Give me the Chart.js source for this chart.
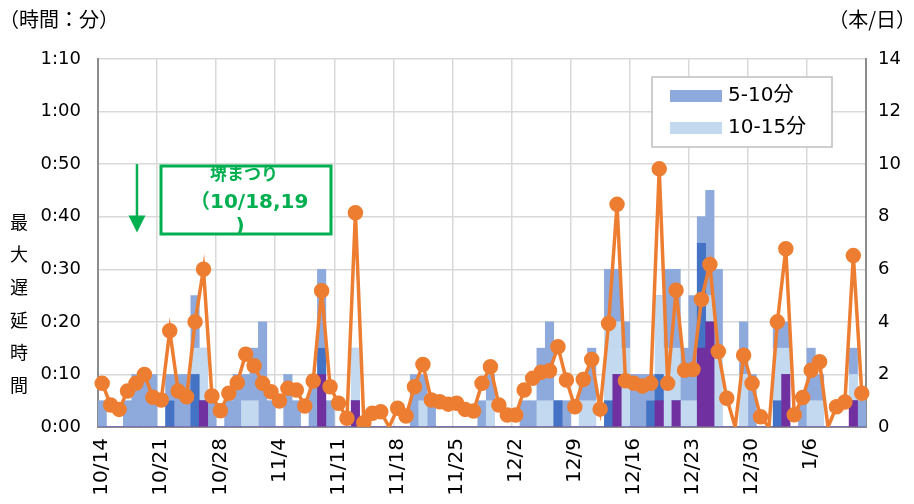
<!DOCTYPE html>
<html lang="ja">
<head>
<meta charset="utf-8">
<script src="https://cdn.jsdelivr.net/npm/chart.js@4.4.1/dist/chart.umd.min.js"></script>
<style>
  body { margin: 0; background: #fff; }
</style>
</head>
<body>
<canvas id="grafico" width="914" height="504"></canvas>
<script>
const dias = [
  '10/14','10/15','10/16','10/17','10/18','10/19','10/20','10/21','10/22','10/23','10/24','10/25','10/26','10/27','10/28','10/29','10/30','10/31',
  '11/1','11/2','11/3','11/4','11/5','11/6','11/7','11/8','11/9','11/10','11/11','11/12','11/13','11/14','11/15','11/16','11/17','11/18','11/19','11/20',
  '11/21','11/22','11/23','11/24','11/25','11/26','11/27','11/28','11/29','11/30',
  '12/1','12/2','12/3','12/4','12/5','12/6','12/7','12/8','12/9','12/10','12/11','12/12','12/13','12/14','12/15','12/16','12/17','12/18','12/19','12/20',
  '12/21','12/22','12/23','12/24','12/25','12/26','12/27','12/28','12/29','12/30','12/31',
  '1/1','1/2','1/3','1/4','1/5','1/6','1/7','1/8','1/9','1/10','1/11','1/12'
]
const rotulosX = ['10/14','10/21','10/28','11/4','11/11','11/18','11/25','12/2','12/9','12/16','12/23','12/30','1/6']

// minutes, stacked bottom to top
const roxo = [
  0,0,0,0,0,0,0,0,0,0, 0,0,5,0,0,0,0,0,0,0, 0,0,0,0,0,0,10,0,0,0,
  5,0,0,0,0,0,0,0,0,0, 0,0,0,0,0,0,0,0,0,0, 0,0,0,0,0,0,0,0,0,0,
  0,10,0,0,0,0,5,0,5,0, 0,15,20,0,0,0,0,0,0,0, 0,10,0,0,0,0,0,0,0,5, 0
]
const azulEscuro = [
  0,0,0,0,0,0,0,0,5,0, 0,10,0,0,0,0,0,0,0,0, 0,0,0,0,0,0,5,0,0,0,
  0,0,0,0,0,0,0,0,0,0, 0,0,0,0,0,0,0,0,0,0, 0,0,0,0,5,0,0,0,0,0,
  5,0,0,0,0,5,5,0,0,0, 0,20,0,0,0,0,0,0,0,0, 5,0,0,0,0,0,0,0,0,0, 0
]
const faixa10a15 = [
  0,0,0,0,0,0,0,0,0,0, 0,5,10,0,0,0,0,5,5,0, 0,0,0,0,0,0,0,0,0,0,
  10,0,0,0,0,0,0,0,5,0, 0,0,0,0,0,0,5,0,0,0, 0,0,5,5,0,0,0,5,5,0,
  15,10,15,0,0,0,15,15,10,5, 5,0,5,15,0,0,10,0,0,0, 10,5,0,0,5,5,0,0,0,5, 0
]
const faixa5a10 = [
  5,0,0,5,10,10,10,0,5,10, 10,10,0,5,0,5,10,5,10,20, 5,0,10,5,0,10,15,5,0,0,
  0,0,0,0,0,0,0,10,5,5, 0,0,0,0,0,5,5,0,0,0, 5,5,10,15,0,5,0,5,10,0,
  10,10,5,10,10,5,0,15,15,10, 20,5,20,15,0,0,10,10,0,0, 5,5,0,5,10,5,0,0,0,5, 5
]
// 本/日
const trensPorDia = [
  1.66,0.84,0.67,1.37,1.66,2.0,1.13,1.03,3.66,1.37,
  1.15,4.0,6.0,1.18,0.62,1.28,1.68,2.77,2.33,1.66,
  1.34,0.99,1.47,1.41,0.8,1.75,5.18,1.53,0.9,0.33,
  8.15,0.16,0.52,0.58,0,0.71,0.42,1.53,2.38,1.03,
  0.96,0.87,0.9,0.67,0.61,1.66,2.29,0.84,0.46,0.46,
  1.41,1.85,2.08,2.14,3.05,1.79,0.77,1.81,2.57,0.68,
  3.94,8.47,1.76,1.66,1.56,1.66,9.82,1.66,5.2,2.16,
  2.19,4.85,6.18,2.87,1.09,0,2.73,1.66,0.39,0,
  4.0,6.78,0.47,1.12,2.16,2.48,0,0.77,0.95,6.52,
  1.28
]

const fonte = '"DejaVu Sans", "Noto Sans CJK JP", sans-serif'
const fonteJp = '"Noto Sans CJK JP", sans-serif'
const verde = '#00B050'
const cinzaGrade = '#D9D9D9'
const cinzaEixo = '#8C8C8C'

const minutos = (v) => Math.floor(v / 60) + ':' + String(v % 60).padStart(2, '0')

const extras = {
  id: 'extras',
  afterDraw(chart) {
    const ctx = chart.ctx
    const x = chart.scales.x
    const y = chart.scales.y
    ctx.save()

    // titulos
    ctx.fillStyle = '#000'
    ctx.font = '20px ' + fonteJp
    ctx.textBaseline = 'middle'
    ctx.textAlign = 'left'
    ctx.fillText('（時間：分）', -1, 19)
    ctx.textAlign = 'right'
    ctx.fillText('（本/日）', 916, 19)
    ctx.textAlign = 'center'
    ctx.font = '18px ' + fonteJp
    '最大遅延時間'.split('').forEach((c, i) => {
      ctx.fillText(c, 19, 222 + i * 32.6)
    })

    // seta e caixa do evento
    const xs = x.getPixelForValue(4) + 1
    const topo = y.getPixelForValue(50)
    const fim = y.getPixelForValue(37)
    ctx.strokeStyle = verde
    ctx.fillStyle = verde
    ctx.lineWidth = 2.5
    ctx.beginPath()
    ctx.moveTo(xs, topo)
    ctx.lineTo(xs, fim - 14)
    ctx.stroke()
    ctx.beginPath()
    ctx.moveTo(xs - 8.5, fim - 17)
    ctx.lineTo(xs + 8.5, fim - 17)
    ctx.lineTo(xs, fim)
    ctx.closePath()
    ctx.fill()

    const bx = 161, by = 166, bw = 170, bh = 68
    ctx.fillStyle = '#fff'
    ctx.fillRect(bx, by, bw, bh)
    ctx.lineWidth = 3
    ctx.strokeRect(bx, by, bw, bh)
    ctx.fillStyle = verde
    ctx.font = 'bold 17px ' + fonte
    ctx.textAlign = 'center'
    ctx.fillText('堺まつり', 244, 176)
    // ajusta o tamanho para a largura da linha original (~100px)
    ctx.font = 'bold 20px ' + fonte
    const tam = Math.min(20, 20 * 100 / ctx.measureText('10/18,19').width)
    ctx.font = 'bold ' + tam.toFixed(1) + 'px ' + fonte
    ctx.textAlign = 'right'
    ctx.fillText('（', 210, 203)
    ctx.textAlign = 'left'
    ctx.fillText('10/18,19', 210, 203)
    ctx.textAlign = 'center'
    ctx.fillText(')', 240, 227)

    // legenda
    const lx = 652, ly = 77
    ctx.fillStyle = '#fff'
    ctx.fillRect(lx, ly, 180, 70)
    ctx.strokeStyle = '#BFBFBF'
    ctx.lineWidth = 1.5
    ctx.strokeRect(lx, ly, 180, 70)
    const itens = [chart.data.datasets[3], chart.data.datasets[2]]
    itens.forEach((d, i) => {
      const cy = ly + 19 + i * 32
      ctx.fillStyle = d.backgroundColor
      ctx.fillRect(lx + 18, cy - 6, 52, 12)
      ctx.fillStyle = '#000'
      ctx.font = '20px ' + fonte
      ctx.textAlign = 'left'
      ctx.fillText(d.label, lx + 76, cy)
    })

    ctx.restore()
  }
}

const grafico = new Chart(document.getElementById('grafico'), {
  data: {
    labels: dias,
    datasets: [
      { type: 'bar', label: '紫', data: roxo, backgroundColor: '#7030A0', yAxisID: 'y', order: 2 },
      { type: 'bar', label: '濃青', data: azulEscuro, backgroundColor: '#4472C4', yAxisID: 'y', order: 2 },
      { type: 'bar', label: '10-15分', data: faixa10a15, backgroundColor: '#C2D9EF', yAxisID: 'y', order: 2 },
      { type: 'bar', label: '5-10分', data: faixa5a10, backgroundColor: '#8EA9DB', yAxisID: 'y', order: 2 },
      {
        type: 'line', label: '本/日', data: trensPorDia, yAxisID: 'y1', order: 1,
        borderColor: '#ED7D31', backgroundColor: '#ED7D31', borderWidth: 3.5,
        pointRadius: (c) => c.raw === 0 ? 0 : 6, pointHoverRadius: 6,
        tension: 0
      }
    ]
  },
  options: {
    responsive: false,
    animation: false,
    layout: { padding: { top: 59, left: 0, right: 0, bottom: 0 } },
    datasets: { bar: { barPercentage: 1, categoryPercentage: 1, stack: 'atraso' } },
    plugins: {
      legend: { display: false },
      tooltip: { enabled: false }
    },
    scales: {
      x: {
        stacked: true,
        offset: true,
        afterFit: (s) => { s.height = 77 },
        border: { color: cinzaEixo, width: 2 },
        grid: {
          offset: true,
          drawTicks: false,
          lineWidth: 1.5,
          color: (c) => c.index % 7 === 0 ? cinzaGrade : 'rgba(0,0,0,0)'
        },
        ticks: {
          autoSkip: false,
          maxRotation: 90,
          minRotation: 90,
          padding: 11,
          color: '#000',
          font: { family: fonte, size: 20 },
          callback: function (v) {
            const l = this.getLabelForValue(v)
            return rotulosX.includes(l) ? l : ''
          }
        }
      },
      y: {
        stacked: true,
        min: 0,
        max: 70,
        afterFit: (s) => { s.width = 98 },
        border: { color: cinzaEixo, width: 2 },
        grid: { color: cinzaGrade, lineWidth: 1.5, drawTicks: false },
        ticks: {
          stepSize: 10,
          padding: 17,
          color: '#000',
          font: { family: fonte, size: 18 },
          callback: (v) => minutos(v)
        }
      },
      y1: {
        position: 'right',
        min: 0,
        max: 14,
        afterFit: (s) => { s.width = 48 },
        border: { color: cinzaEixo, width: 2 },
        grid: { display: false, drawTicks: false },
        ticks: {
          stepSize: 2,
          padding: 12,
          color: '#000',
          font: { family: fonte, size: 18 }
        }
      }
    }
  },
  plugins: [extras]
})
</script>
</body>
</html>
